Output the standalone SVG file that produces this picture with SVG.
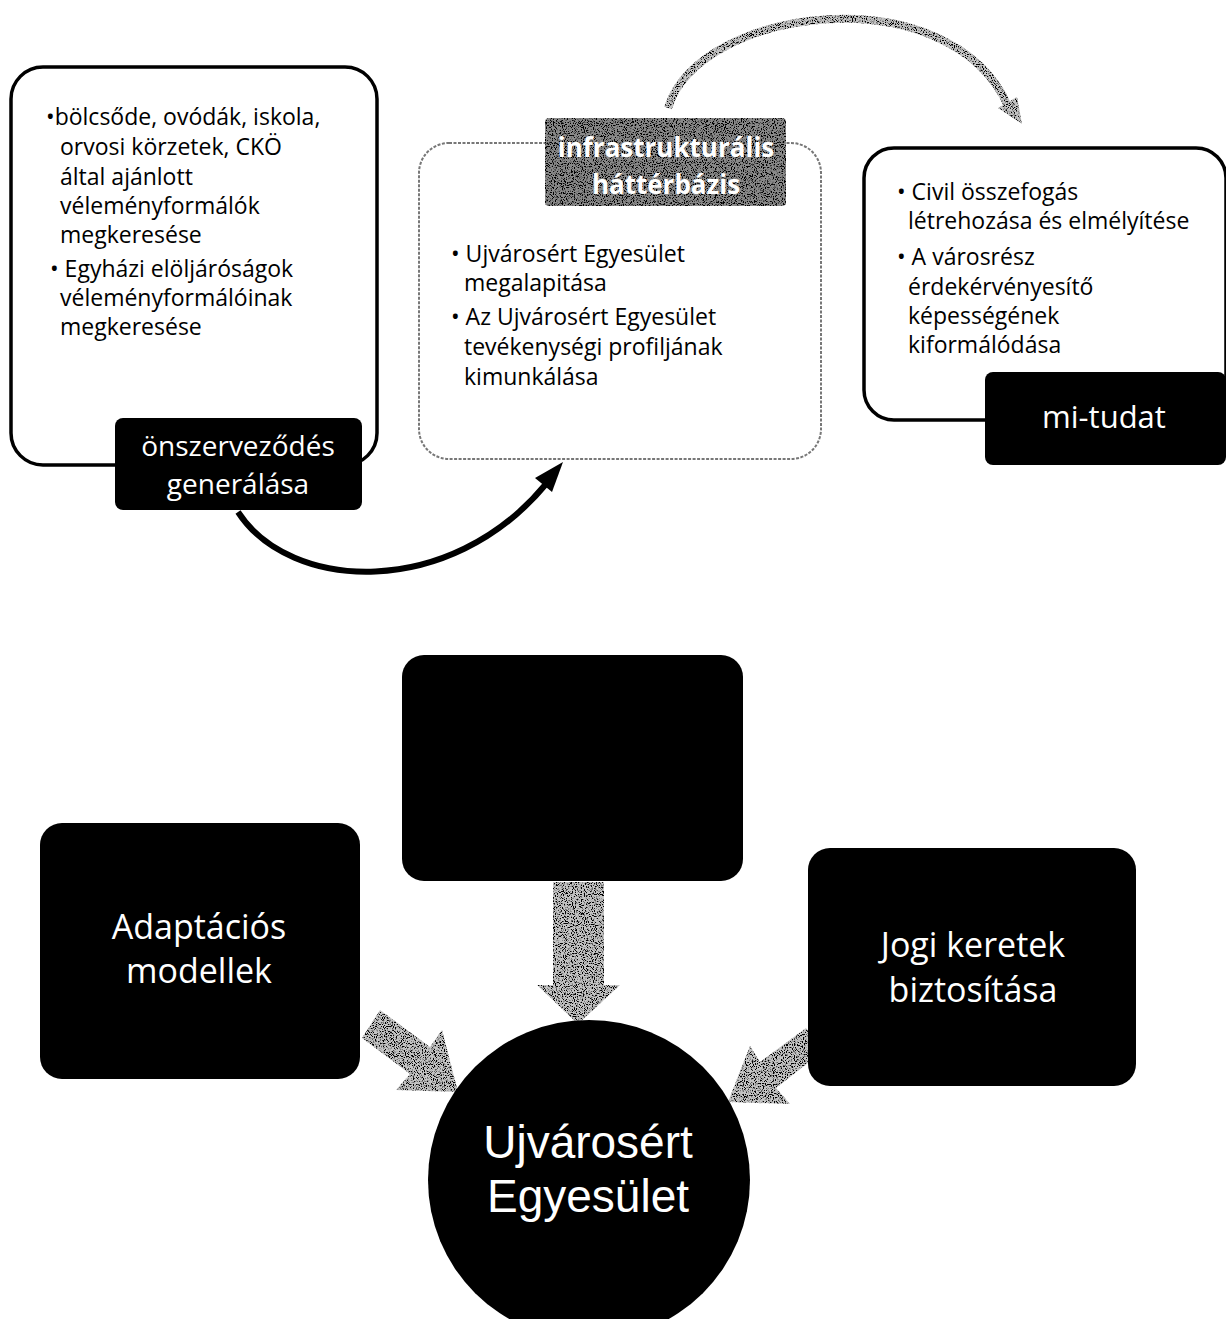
<svg xmlns="http://www.w3.org/2000/svg" width="1226" height="1319" viewBox="0 0 1226 1319">
<style>
.t{font-family:"Open Sans","Liberation Sans",sans-serif;fill:#000;font-size:23px}
.w{font-family:"Open Sans","Liberation Sans",sans-serif;fill:#fff}
.box{fill:#fff;stroke:#000;stroke-width:3.5}
.blk{fill:#000}
.gray{fill:#c4c4c4;filter:url(#noise)}
</style>
<defs>
<filter id="noise" x="-10%" y="-10%" width="120%" height="120%">
<feTurbulence type="fractalNoise" baseFrequency="0.9" numOctaves="2" seed="3" result="n"/>
<feColorMatrix in="n" type="matrix" values="0 0 0 0 0  0 0 0 0 0  0 0 0 0 0  0 0 0 -7 3.6" result="dots"/>
<feComposite in="dots" in2="SourceGraphic" operator="in" result="d2"/>
<feMerge><feMergeNode in="SourceGraphic"/><feMergeNode in="d2"/></feMerge>
</filter>
</defs>
<rect width="1226" height="1319" fill="#fff"/>

<g id="connectors">
<path d="M238,512 C290,592 450,600 546,484" fill="none" stroke="#000" stroke-width="6"/>
<polygon points="563,462 535,478 552,492" fill="#000"/>
<path d="M668,108 C700,5 950,-25 1008,106" fill="none" stroke="#c4c4c4" stroke-width="8" filter="url(#noise)"/>
<polygon points="1022,124 998,108 1017,97" class="gray"/>
<path class="gray" d="M553,882 H604 V985 H620 L578,1024 L537,985 H553 Z"/>
<path class="gray" d="M380,1010 L430,1047 L442,1030 L458,1092 L396,1090 L410,1074 L362,1038 Z"/>
<path class="gray" d="M806,1028 L760,1062 L750,1046 L728,1102 L790,1104 L776,1088 L822,1052 Z"/>
</g>

<g id="node-onszervezodes">
<rect class="box" x="11" y="67" width="366" height="398" rx="32"/>
<text class="t" x="46" y="125">•bölcsőde, ovódák, iskola,</text>
<text class="t" x="60" y="155">orvosi körzetek, CKÖ</text>
<text class="t" x="60" y="185">által ajánlott</text>
<text class="t" x="60" y="214">véleményformálók</text>
<text class="t" x="60" y="243">megkeresése</text>
<text class="t" x="50" y="277">• Egyházi elöljáróságok</text>
<text class="t" x="60" y="306">véleményformálóinak</text>
<text class="t" x="60" y="335">megkeresése</text>
<rect class="blk" x="115" y="418" width="247" height="92" rx="8"/>
<text class="w" x="238" y="456" font-size="28" text-anchor="middle">önszerveződés</text>
<text class="w" x="238" y="494" font-size="28" text-anchor="middle">generálása</text>
</g>

<g id="node-infrastruktura">
<rect x="419" y="143" width="402" height="316" rx="30" fill="#fff" stroke="#777" stroke-width="2" stroke-dasharray="3 1.5"/>
<rect class="gray" x="545" y="118" width="241" height="88" rx="4" style="fill:#8a8a8a"/>
<text class="w" x="666" y="157" font-size="26" font-weight="bold" text-anchor="middle">infrastrukturális</text>
<text class="w" x="666" y="194" font-size="26" font-weight="bold" text-anchor="middle">háttérbázis</text>
<text class="t" x="451" y="262">• Ujvárosért Egyesület</text>
<text class="t" x="464" y="291">megalapitása</text>
<text class="t" x="451" y="325">• Az Ujvárosért Egyesület</text>
<text class="t" x="464" y="355">tevékenységi profiljának</text>
<text class="t" x="464" y="385">kimunkálása</text>
</g>

<g id="node-mitudat">
<rect class="box" x="864" y="148" width="362" height="272" rx="30"/>
<text class="t" x="897" y="200">• Civil összefogás</text>
<text class="t" x="908" y="229">létrehozása és elmélyítése</text>
<text class="t" x="897" y="265">• A városrész</text>
<text class="t" x="908" y="295">érdekérvényesítő</text>
<text class="t" x="908" y="324">képességének</text>
<text class="t" x="908" y="353">kiformálódása</text>
<rect class="blk" x="985" y="372" width="241" height="93" rx="8"/>
<text class="w" x="1104" y="428" font-size="31" text-anchor="middle">mi-tudat</text>
</g>

<g id="node-top">
<rect class="blk" x="402" y="655" width="341" height="226" rx="22"/>
</g>

<g id="node-adaptacios">
<rect class="blk" x="40" y="823" width="320" height="256" rx="22"/>
<text class="w" x="199" y="939" font-size="34" text-anchor="middle">Adaptációs</text>
<text class="w" x="199" y="983" font-size="34" text-anchor="middle">modellek</text>
</g>

<g id="node-jogi">
<rect class="blk" x="808" y="848" width="328" height="238" rx="22"/>
<text class="w" x="973" y="957" font-size="34" text-anchor="middle">Jogi keretek</text>
<text class="w" x="973" y="1002" font-size="34" text-anchor="middle">biztosítása</text>
</g>

<g id="node-ujvarosert">
<ellipse class="blk" cx="589" cy="1180" rx="161" ry="160"/>
<text class="w" x="588" y="1158" font-size="46" text-anchor="middle" style="font-family:'Liberation Sans',Arial,sans-serif">Ujvárosért</text>
<text class="w" x="588" y="1212" font-size="46" text-anchor="middle" style="font-family:'Liberation Sans',Arial,sans-serif">Egyesület</text>
</g>
</svg>
